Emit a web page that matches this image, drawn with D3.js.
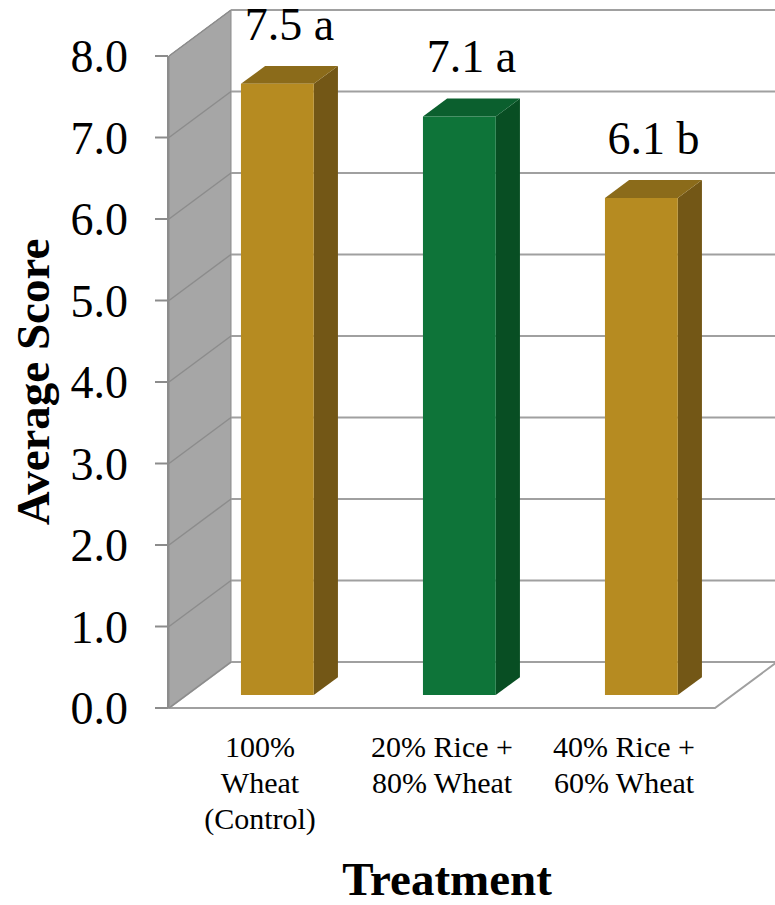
<!DOCTYPE html>
<html>
<head>
<meta charset="utf-8">
<script src="https://cdn.jsdelivr.net/npm/d3@7/dist/d3.min.js"></script>
<style>
  html, body { margin: 0; padding: 0; background: #fff; }
  svg { display: block; }
  text { font-family: "Liberation Serif", "Times New Roman", serif; fill: #000; }
</style>
</head>
<body>
<svg id="chart" width="775" height="905"></svg>
<script>
// Sensory evaluation: average score per flour blend
const categories = ["100%\nWheat\n(Control)", "20% Rice +\n80% Wheat", "40% Rice +\n60% Wheat"];
const scores = [7.5, 7.1, 6.1];
const letters = ["a", "a", "b"];
const barColors = ["gold", "green", "gold"];
const yTicks = [0, 1, 2, 3, 4, 5, 6, 7, 8];

const palette = {
  gold:  { front: "#b68b21", top: "#8b6b1a", side: "#735716" },
  green: { front: "#0e7439", top: "#0b5f2e", side: "#084e23" }
};

const svg = d3.select("#chart");

// Front plane scales; depth is projected as an oblique offset
const x = d3.scaleBand().domain(categories).range([169, 715]).paddingInner(0.6).paddingOuter(0.3);
const y = d3.scaleLinear().domain([0, 8]).range([708, 56]);
const depthX = 62, depthY = -46;
const proj = (px, v, z) => [px + z * depthX, y(v) + z * depthY];
const barZ0 = 0.28, barZ1 = 0.67;

const gridColor = "#a0a0a0";
const line = d3.line();

// Left side wall
svg.append("path")
  .attr("d", line([proj(169, 0, 0), proj(169, 8, 0), proj(169, 8, 1), proj(169, 0, 1)]) + "Z")
  .attr("fill", "#a6a6a6").attr("stroke", "#8c8c8c").attr("stroke-width", 1);

// Floor
svg.append("path")
  .attr("d", line([proj(169, 0, 0), proj(715, 0, 0), proj(715, 0, 1), proj(169, 0, 1)]) + "Z")
  .attr("fill", "#fff").attr("stroke", gridColor).attr("stroke-width", 2);

// Gridlines on the back wall and the side wall
yTicks.forEach(t => {
  const [bx, by] = proj(169, t, 1);
  if (t > 0) {
    svg.append("line").attr("x1", bx).attr("y1", by).attr("x2", 777).attr("y2", by)
      .attr("stroke", gridColor).attr("stroke-width", 2);
  }
  const [fx, fy] = proj(169, t, 0);
  svg.append("line").attr("x1", fx).attr("y1", fy).attr("x2", bx).attr("y2", by)
    .attr("stroke", "#8c8c8c").attr("stroke-width", 1.5);
});

// Vertical value axis with ticks and labels
const axisG = svg.append("g");
axisG.append("line").attr("x1", 168).attr("y1", y(8)).attr("x2", 168).attr("y2", y(0))
  .attr("stroke", "#8c8c8c").attr("stroke-width", 2);
axisG.selectAll(".tick").data(yTicks).join("line")
  .attr("x1", 155).attr("x2", 168).attr("y1", d => y(d)).attr("y2", d => y(d))
  .attr("stroke", "#8c8c8c").attr("stroke-width", 2);
axisG.selectAll(".tl").data(yTicks).join("text")
  .attr("x", 128).attr("y", d => y(d) + 16)
  .attr("text-anchor", "end").attr("font-size", 46)
  .text(d3.format(".1f"));

// 3D bars
const bars = svg.append("g");
categories.forEach((c, i) => {
  const v = scores[i];
  const col = palette[barColors[i]];
  const x0 = x(c), x1 = x(c) + x.bandwidth();
  const f = [proj(x0, 0, barZ0), proj(x1, 0, barZ0), proj(x1, v, barZ0), proj(x0, v, barZ0)];
  const s = [proj(x1, 0, barZ0), proj(x1, 0, barZ1), proj(x1, v, barZ1), proj(x1, v, barZ0)];
  const tp = [proj(x0, v, barZ0), proj(x1, v, barZ0), proj(x1, v, barZ1), proj(x0, v, barZ1)];
  bars.append("path").attr("d", line(s) + "Z").attr("fill", col.side);
  bars.append("path").attr("d", line(tp) + "Z").attr("fill", col.top);
  bars.append("path").attr("d", line(f) + "Z").attr("fill", col.front);

  // value label with significance letter
  const [lx] = proj(x0 + x.bandwidth() / 2, v, (barZ0 + barZ1) / 2);
  const [, ly] = proj(0, v, barZ0);
  svg.append("text")
    .attr("x", lx).attr("y", ly - 44)
    .attr("text-anchor", "middle").attr("font-size", 46)
    .text(d3.format(".1f")(v) + " " + letters[i]);
});

// Category labels
categories.forEach(c => {
  const t = svg.append("text")
    .attr("text-anchor", "middle").attr("font-size", 30);
  c.split("\n").forEach((ln, k) => {
    t.append("tspan").attr("x", x(c) + x.bandwidth() / 2).attr("y", 757 + k * 36).text(ln);
  });
});

// Axis titles
svg.append("text")
  .attr("transform", "translate(49,382) rotate(-90)")
  .attr("text-anchor", "middle").attr("font-size", 47).attr("font-weight", "bold")
  .text("Average Score");

svg.append("text")
  .attr("x", 447).attr("y", 895)
  .attr("text-anchor", "middle").attr("font-size", 47).attr("font-weight", "bold")
  .text("Treatment");
</script>
</body>
</html>
